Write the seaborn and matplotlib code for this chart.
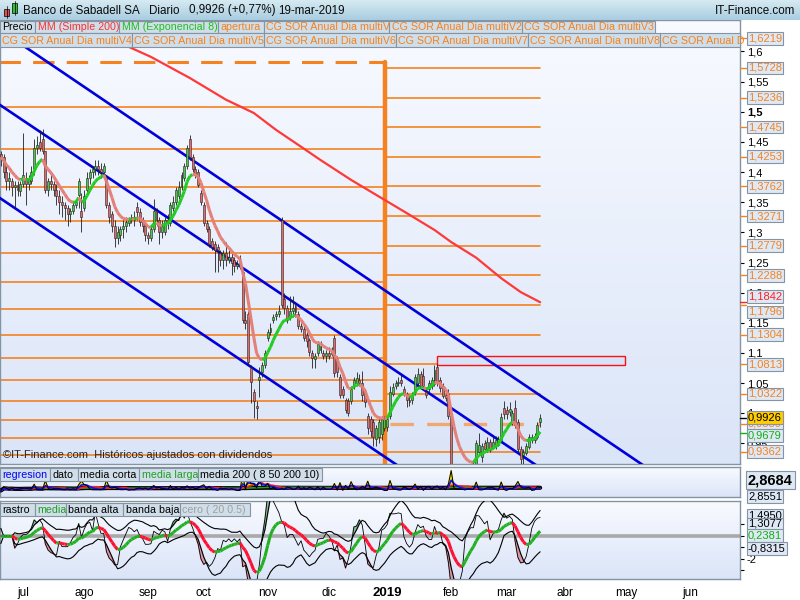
import numpy as np
import pandas as pd
import matplotlib
matplotlib.use("Agg")
import matplotlib.pyplot as plt
import matplotlib.transforms as mtransforms
from matplotlib.patches import Rectangle
from matplotlib.collections import LineCollection
from matplotlib.colors import LinearSegmentedColormap
import seaborn as sns

# ---------------- datos ----------------
inicio = "2018-06-20"
fin_calendario = "2019-06-28"

apertura = [
    1.430, 1.425, 1.400, 1.385, 1.385, 1.375, 1.378, 1.368, 1.380, 1.390,
    1.380, 1.385, 1.405, 1.440, 1.450, 1.455, 1.435, 1.370, 1.385, 1.380,
    1.370, 1.360, 1.350, 1.345, 1.340, 1.330, 1.335, 1.345, 1.362, 1.335,
    1.340, 1.370, 1.390, 1.400, 1.405, 1.410, 1.405, 1.400, 1.390, 1.345,
    1.330, 1.310, 1.290, 1.295, 1.305, 1.310, 1.315, 1.320, 1.325, 1.342,
    1.333, 1.320, 1.310, 1.295, 1.290, 1.305, 1.335, 1.320, 1.300, 1.300,
    1.320, 1.315, 1.340, 1.350, 1.360, 1.375, 1.390, 1.410, 1.455, 1.425,
    1.405, 1.400, 1.365, 1.345, 1.315, 1.305, 1.285, 1.280, 1.275, 1.265,
    1.255, 1.265, 1.255, 1.260, 1.255, 1.245, 1.250, 1.235, 1.155, 1.165,
    1.075, 1.035, 1.012, 1.055, 1.068, 1.080, 1.125, 1.135, 1.155, 1.162,
    1.165, 1.320, 1.190, 1.175, 1.160, 1.170, 1.178, 1.165, 1.145, 1.140,
    1.130, 1.122, 1.100, 1.090, 1.100, 1.105, 1.100, 1.095, 1.100, 1.098,
    1.125, 1.090, 1.060, 1.040, 1.022, 1.020, 1.020, 1.045, 1.050, 1.055,
    1.050, 1.035, 0.995, 0.990, 0.985, 0.958, 0.960, 0.965, 0.975, 0.978,
    0.995, 1.032, 1.045, 1.050, 1.055, 1.040, 1.032, 1.022, 1.022, 1.035,
    1.050, 1.065, 1.062, 1.035, 1.040, 1.045, 1.048, 1.077, 1.055, 1.045,
    1.030, 1.034, 0.995, 0.905, 0.895, 0.890, 0.895, 0.900, 0.898, 0.905,
    0.910, 0.915, 0.935, 0.928, 0.950, 0.940, 0.952, 0.943, 0.945, 0.948,
    0.956, 1.009, 1.005, 1.002, 0.985, 1.009, 0.985, 0.940, 0.930, 0.934,
    0.944, 0.955, 0.956, 0.960, 0.985,
]
maximo = [
    1.435, 1.430, 1.410, 1.400, 1.390, 1.385, 1.385, 1.385, 1.465, 1.400,
    1.395, 1.410, 1.455, 1.460, 1.470, 1.472, 1.435, 1.390, 1.400, 1.385,
    1.380, 1.370, 1.360, 1.350, 1.345, 1.340, 1.350, 1.355, 1.390, 1.365,
    1.370, 1.400, 1.405, 1.410, 1.420, 1.420, 1.415, 1.415, 1.395, 1.350,
    1.335, 1.320, 1.310, 1.310, 1.320, 1.325, 1.325, 1.330, 1.335, 1.350,
    1.340, 1.325, 1.315, 1.300, 1.310, 1.355, 1.340, 1.325, 1.320, 1.325,
    1.330, 1.350, 1.360, 1.375, 1.385, 1.400, 1.415, 1.445, 1.462, 1.430,
    1.410, 1.405, 1.370, 1.350, 1.320, 1.310, 1.290, 1.285, 1.280, 1.270,
    1.270, 1.284, 1.270, 1.265, 1.260, 1.255, 1.263, 1.240, 1.170, 1.170,
    1.080, 1.040, 1.020, 1.077, 1.085, 1.105, 1.140, 1.150, 1.165, 1.170,
    1.180, 1.325, 1.200, 1.180, 1.195, 1.195, 1.185, 1.170, 1.150, 1.145,
    1.135, 1.125, 1.105, 1.100, 1.120, 1.120, 1.105, 1.105, 1.110, 1.110,
    1.130, 1.095, 1.065, 1.045, 1.025, 1.025, 1.045, 1.060, 1.068, 1.065,
    1.070, 1.040, 1.000, 0.995, 0.990, 0.980, 0.990, 0.995, 0.995, 0.995,
    1.045, 1.050, 1.055, 1.060, 1.063, 1.045, 1.035, 1.030, 1.035, 1.065,
    1.075, 1.070, 1.075, 1.040, 1.055, 1.060, 1.080, 1.082, 1.060, 1.050,
    1.035, 1.040, 1.000, 0.910, 0.900, 0.900, 0.905, 0.908, 0.910, 0.915,
    0.920, 0.955, 0.968, 0.950, 0.955, 0.960, 0.958, 0.960, 0.962, 0.962,
    1.000, 1.020, 1.012, 1.018, 1.005, 1.022, 0.990, 0.945, 0.940, 0.950,
    0.965, 0.965, 0.968, 0.985, 0.998,
]
minimo = [
    1.410, 1.390, 1.370, 1.370, 1.360, 1.340, 1.360, 1.360, 1.375, 1.345,
    1.370, 1.380, 1.395, 1.430, 1.435, 1.430, 1.365, 1.360, 1.370, 1.360,
    1.345, 1.330, 1.325, 1.320, 1.310, 1.318, 1.330, 1.340, 1.340, 1.300,
    1.335, 1.365, 1.380, 1.390, 1.395, 1.395, 1.390, 1.395, 1.340, 1.315,
    1.300, 1.275, 1.280, 1.285, 1.290, 1.300, 1.310, 1.315, 1.310, 1.320,
    1.310, 1.300, 1.285, 1.280, 1.285, 1.300, 1.310, 1.280, 1.290, 1.295,
    1.305, 1.310, 1.335, 1.345, 1.355, 1.370, 1.385, 1.405, 1.420, 1.400,
    1.390, 1.375, 1.345, 1.310, 1.300, 1.275, 1.270, 1.235, 1.235, 1.245,
    1.240, 1.245, 1.250, 1.230, 1.235, 1.240, 1.240, 1.150, 1.140, 1.080,
    1.017, 0.992, 0.990, 1.027, 1.060, 1.075, 1.120, 1.130, 1.150, 1.155,
    1.160, 1.175, 1.165, 1.150, 1.155, 1.160, 1.160, 1.140, 1.135, 1.120,
    1.110, 1.095, 1.075, 1.075, 1.095, 1.100, 1.090, 1.085, 1.090, 1.095,
    1.060, 1.060, 1.025, 1.025, 1.000, 0.995, 1.015, 1.040, 1.045, 1.045,
    1.020, 1.010, 0.965, 0.960, 0.945, 0.945, 0.950, 0.955, 0.970, 0.970,
    0.990, 1.028, 1.040, 1.045, 1.045, 1.028, 1.010, 1.012, 1.015, 1.030,
    1.045, 1.040, 1.040, 1.025, 1.035, 1.040, 1.045, 1.045, 1.035, 1.025,
    1.020, 0.990, 0.895, 0.890, 0.880, 0.885, 0.890, 0.892, 0.895, 0.900,
    0.905, 0.910, 0.930, 0.920, 0.935, 0.935, 0.935, 0.940, 0.940, 0.945,
    0.952, 0.990, 0.990, 0.995, 0.980, 0.975, 0.935, 0.915, 0.915, 0.930,
    0.940, 0.950, 0.950, 0.958, 0.978,
]
cierre = [
    1.425, 1.400, 1.385, 1.390, 1.375, 1.378, 1.370, 1.380, 1.395, 1.380,
    1.390, 1.400, 1.440, 1.445, 1.440, 1.435, 1.370, 1.385, 1.380, 1.370,
    1.360, 1.350, 1.345, 1.340, 1.330, 1.335, 1.345, 1.350, 1.385, 1.325,
    1.360, 1.390, 1.400, 1.405, 1.410, 1.405, 1.400, 1.410, 1.345, 1.325,
    1.310, 1.290, 1.300, 1.305, 1.310, 1.318, 1.320, 1.325, 1.320, 1.333,
    1.318, 1.310, 1.295, 1.290, 1.305, 1.335, 1.320, 1.300, 1.310, 1.320,
    1.315, 1.345, 1.350, 1.370, 1.375, 1.395, 1.410, 1.440, 1.425, 1.405,
    1.395, 1.378, 1.350, 1.315, 1.305, 1.280, 1.275, 1.270, 1.270, 1.255,
    1.265, 1.255, 1.260, 1.250, 1.245, 1.245, 1.245, 1.155, 1.150, 1.085,
    1.052, 1.020, 1.008, 1.060, 1.080, 1.100, 1.135, 1.142, 1.160, 1.165,
    1.170, 1.180, 1.175, 1.155, 1.170, 1.175, 1.168, 1.145, 1.140, 1.125,
    1.120, 1.102, 1.092, 1.095, 1.115, 1.112, 1.095, 1.100, 1.095, 1.102,
    1.067, 1.068, 1.030, 1.030, 1.006, 1.000, 1.040, 1.055, 1.058, 1.050,
    1.030, 1.018, 0.975, 0.970, 0.960, 0.975, 0.985, 0.990, 0.990, 0.990,
    1.035, 1.044, 1.050, 1.052, 1.050, 1.033, 1.022, 1.018, 1.030, 1.060,
    1.065, 1.045, 1.045, 1.030, 1.050, 1.055, 1.072, 1.050, 1.042, 1.028,
    1.025, 0.995, 0.905, 0.895, 0.890, 0.895, 0.900, 0.898, 0.905, 0.910,
    0.915, 0.950, 0.947, 0.945, 0.940, 0.952, 0.940, 0.952, 0.956, 0.957,
    0.994, 0.998, 0.998, 1.007, 1.000, 0.980, 0.940, 0.925, 0.935, 0.945,
    0.960, 0.960, 0.962, 0.980, 0.9926,
]

ma200_sesion = [43, 54, 68, 81, 91, 99, 108, 115, 126, 138, 146, 156, 162, 171, 180, 187, 194]
ma200_valor = [1.614, 1.591, 1.556, 1.520, 1.498, 1.470, 1.442, 1.420, 1.387, 1.354,
               1.332, 1.304, 1.284, 1.258, 1.224, 1.201, 1.1842]
ema8_ultimo = 0.9679

# niveles anuales (CG SOR Anual)
apertura_2018 = 1.5826
niveles_2018 = [1.5075, 1.4385, 1.3760, 1.3185, 1.2660, 1.2175, 1.1725, 1.1305,
                1.0915, 1.0550, 1.0210, 0.9890, 0.9590, 0.9310]
apertura_2019 = 0.9830
niveles_2019 = [1.6219, 1.5728, 1.5236, 1.4745, 1.4253, 1.3762, 1.3271, 1.2779,
                1.2288, 1.1796, 1.1304, 1.0813, 1.0322, 0.9362]

# canal bajista (extremos de cada recta)
canal_sesion = [-1, 240]
canal_sup = [1.638, 0.886]
canal_med = [1.5135, 0.767]
canal_inf = [1.359, 0.612]

zona_sesion = [157, 224.5]
zona_valor = [1.0805, 1.0955]

meses = ["jul", "ago", "sep", "oct", "nov", "dic", "2019", "feb", "mar", "abr", "may", "jun"]

# ---------------- estilo ----------------
sns.set_style("white")
plt.rcParams['font.family'] = ['Liberation Sans', 'DejaVu Sans']

naranja = '#f5821f'
azul = '#0000dd'
gris_borde = '#8494a4'
fondo_cmap = LinearSegmentedColormap.from_list('fondo', ['#f8faff', '#dbe5f8'])
barra_cmap = LinearSegmentedColormap.from_list('barra', ['#d6eaf2', '#a9cde0'])

df = pd.DataFrame({'apertura': apertura, 'maximo': maximo, 'minimo': minimo, 'cierre': cierre})
df['fecha'] = pd.bdate_range(inicio, periods=len(df))
df['sesion'] = np.arange(len(df))
calendario = pd.bdate_range(inicio, fin_calendario)
cal = pd.Series(np.arange(len(calendario)), index=calendario)
primeros = cal.groupby(calendario.to_period('M')).first().iloc[1:]

W, H = 800, 600
fig = plt.figure(figsize=(8, 6), dpi=100)


def caja(x0, y0, x1, y1):
    return [x0 / W, 1 - y1 / H, (x1 - x0) / W, (y1 - y0) / H]


XL = (-0.3, 265.9)
ax = fig.add_axes(caja(0, 20, 740, 464))
ax2 = fig.add_axes(caja(0, 467, 740, 497))
ax3 = fig.add_axes(caja(0, 501, 740, 579))
limites = {ax: (0.9159, 1.6522), ax2: (2.8505, 2.8805), ax3: (-3.74, 3.04)}
for a, yl in limites.items():
    a.set_xlim(*XL)
    a.set_ylim(*yl)
    a.imshow(np.linspace(0, 1, 100).reshape(-1, 1), cmap=fondo_cmap, aspect='auto',
             extent=(XL[0], XL[1], yl[0], yl[1]), origin='upper', zorder=0)
    for sp in a.spines.values():
        sp.set_color(gris_borde)
        sp.set_linewidth(1)
    a.yaxis.tick_right()
    a.tick_params(axis='y', length=3, width=0.8, pad=2, labelsize=8, colors='black')

s = df['sesion']

# ---------------- panel principal ----------------
for v in niveles_2018:
    ax.plot([-1, 138.3], [v, v], color=naranja, lw=1.2, zorder=2)
ax.plot([-1, 138.3], [apertura_2018] * 2, color=naranja, lw=2.2, ls=(0, (7, 4)), zorder=2)
ax.plot([138.3, 138.3], [0.9, apertura_2018], color=naranja, lw=3.2, zorder=2)
for v in niveles_2019:
    ax.plot([138.3, 194], [v, v], color=naranja, lw=1.2, zorder=2)
ax.plot([140, 194], [apertura_2019] * 2, color='#f0a870', lw=2.4, ls=(0, (7, 4)), zorder=2)

ax.add_patch(Rectangle((zona_sesion[0], zona_valor[0]), zona_sesion[1] - zona_sesion[0],
                       zona_valor[1] - zona_valor[0], fc='#d6e2f8', ec='#ff1010', lw=1, zorder=2))

for linea in (canal_sup, canal_med, canal_inf):
    sns.lineplot(x=canal_sesion, y=linea, ax=ax, color=azul, lw=1.9, zorder=3)

sns.lineplot(x=ma200_sesion, y=ma200_valor, ax=ax, color='#ff3838', lw=1.6, zorder=3)

alza = df['cierre'] >= df['apertura']
ax.vlines(s, df['minimo'], df['maximo'], color='#202020', lw=0.6, zorder=4)
cuerpo = np.maximum((df['cierre'] - df['apertura']).abs(), 0.002)
ax.bar(s, cuerpo, bottom=np.minimum(df['apertura'], df['cierre']), width=0.7,
       color=np.where(alza, '#4ac84a', '#e26a6a'), edgecolor='#202020', linewidth=0.4, zorder=5)

ema = df['cierre'].ewm(span=8, adjust=False).mean()
pts = np.column_stack([s, ema])
segs = np.stack([pts[:-1], pts[1:]], axis=1)
col_ema = np.where(np.diff(ema) >= 0, '#22cc22', '#e38078')
ax.add_collection(LineCollection(segs, colors=col_ema, linewidths=2.2, zorder=6))

ax.text(0.004, 0.008, "©IT-Finance.com  Históricos ajustados con dividendos", transform=ax.transAxes,
        fontsize=8, va='bottom', ha='left', zorder=7)

ticks = np.round(np.arange(0.95, 1.6001, 0.05), 2)
ax.set_yticks(ticks, labels=[f"{t:g}".replace('.', ',') for t in ticks])
for t in ax.get_yticklabels():
    if t.get_text() == '1,5':
        t.set_fontweight('bold')
ax.set_xticks([])
ax.set_xlabel('')
ax.set_ylabel('')


def etiqueta(a, v, texto, color, fc='#dfe9f5', dy=0, size=8, weight='normal', marca=None):
    tr = mtransforms.blended_transform_factory(a.transAxes, a.transData)
    if marca:
        a.plot([1.0, 1.008], [v, v], transform=tr, clip_on=False, color=marca, lw=1, zorder=8)
    a.annotate(texto, xy=(1, v), xycoords=tr, xytext=(8, dy), textcoords='offset pixels',
               ha='left', va='center', fontsize=size, fontweight=weight, color=color, zorder=9,
               annotation_clip=False,
               bbox=dict(boxstyle='square,pad=0.12', fc=fc, ec=gris_borde, lw=0.8))


for v in niveles_2019:
    dy = -7 if abs(v - 1.1796) < 1e-6 else 0
    etiqueta(ax, v, f"{v:.4f}".replace('.', ','), naranja, dy=dy, marca=naranja)
etiqueta(ax, apertura_2019, "0,9830", naranja, marca=naranja)
etiqueta(ax, ma200_valor[-1], "1,1842", '#ff2020', dy=6, marca='#ff2020')
etiqueta(ax, cierre[-1], "0,9926", 'black', fc='#ffcc00', marca='black')
etiqueta(ax, ema8_ultimo, "0,9679", '#10b010', dy=-3, marca='#10b010')

# ---------------- panel regresion ----------------
ret = df['cierre'].pct_change().abs().fillna(0)
dato = 2.857 + 0.22 * ret
corta = dato.rolling(8, min_periods=1).mean()
larga = dato.rolling(50, min_periods=1).mean()
m200 = dato.expanding().mean()
regres = dato.ewm(span=4, adjust=False).mean()
ax2.fill_between(s, dato, corta, where=dato > corta, color='#f4e000', interpolate=True, zorder=2)
sns.lineplot(x=s, y=m200, ax=ax2, color='black', lw=3, zorder=3)
sns.lineplot(x=s, y=larga, ax=ax2, color='#20a020', lw=1.2, zorder=3)
sns.lineplot(x=s, y=corta, ax=ax2, color='#ff2020', lw=1.2, zorder=3)
sns.lineplot(x=s, y=regres, ax=ax2, color='#1010ff', lw=1.2, zorder=4)
sns.lineplot(x=s, y=dato, ax=ax2, color='black', lw=0.7, zorder=5)
ax2.set_xticks([])
ax2.set_yticks([])
ax2.set_xlabel('')
ax2.set_ylabel('')
etiqueta(ax2, 2.8551, "2,8551", 'black', dy=-4)
etiqueta(ax2, 2.8684, "2,8684", 'black', dy=-1, size=10.5, weight='bold')

# ---------------- panel rastro ----------------
rastro = df['cierre'].pct_change(5).fillna(0) * 32
media = rastro.ewm(span=10, adjust=False).mean()
desv = rastro.rolling(15, min_periods=2).std().fillna(0.6) * 1.1
alta = media + desv
baja = media - desv
ax3.axhline(0, color='#a9a9a9', lw=2.6, zorder=1)
ax3.fill_between(s, rastro, alta, where=rastro > alta, color='#8cb89c', interpolate=True, zorder=2)
ax3.fill_between(s, rastro, baja, where=rastro < baja, color='#d49aa8', interpolate=True, zorder=2)
sns.lineplot(x=s, y=alta, ax=ax3, color='black', lw=0.8, zorder=3)
sns.lineplot(x=s, y=baja, ax=ax3, color='black', lw=0.8, zorder=3)
sns.lineplot(x=s, y=rastro, ax=ax3, color='black', lw=0.6, zorder=3)
pm = np.column_stack([s, media])
sm = np.stack([pm[:-1], pm[1:]], axis=1)
col_m = np.where(np.diff(media) >= 0, '#20b020', '#ff1030')
ax3.add_collection(LineCollection(sm, colors=col_m, linewidths=2.2, zorder=4))
ax3.set_yticks([-3, -2, -1, 0, 1], labels=['', '-2', '', '0', ''])
ax3.set_ylabel('')
ax3.set_xlabel('')
etiqueta(ax3, 1.4950, "1,4950", 'black', dy=3)
etiqueta(ax3, 1.3077, "1,3077", 'black', dy=-3)
etiqueta(ax3, 0.2381, "0,2381", '#10b010', dy=-2)
etiqueta(ax3, -0.8315, "-0,8315", 'black', dy=-3)

ax3.set_xticks(primeros.values, labels=meses)
ax3.tick_params(axis='x', length=3, width=0.8, pad=3, labelsize=8.5, colors='black')
for t in ax3.get_xticklabels():
    if t.get_text() == '2019':
        t.set_fontweight('bold')
        t.set_fontsize(9.5)

# ---------------- cabecera y leyendas ----------------
tb = fig.add_axes(caja(0, 0, 800, 20))
tb.set_xlim(0, 800)
tb.set_ylim(20, 0)
tb.imshow(np.linspace(0, 1, 50).reshape(-1, 1), cmap=barra_cmap, aspect='auto',
          extent=(0, 800, 20, 0), zorder=0)
tb.axis('off')
tb.add_patch(Rectangle((4, 9), 5, 7, fc='#e05050', ec='black', lw=0.5))
tb.plot([6.5, 6.5], [6, 18], color='black', lw=0.5)
tb.add_patch(Rectangle((12, 3), 5, 10, fc='#30c030', ec='black', lw=0.5))
tb.plot([14.5, 14.5], [1, 15], color='black', lw=0.5)
cab = [("Banco de Sabadell SA", 23), ("Diario", 149), ("0,9926 (+0,77%)", 189), ("19-mar-2019", 278)]
for txt, x in cab:
    tb.text(x, 10.5, txt, fontsize=8.4, va='center', ha='left', color='#0a0a0a')
tb.text(795, 10.5, "IT-Finance.com", fontsize=8.4, va='center', ha='right', color='#0a0a0a')

ov = fig.add_axes([0, 0, 1, 1], zorder=10)
ov.set_xlim(0, W)
ov.set_ylim(H, 0)
ov.axis('off')

leyendas = [
    (20.5, 33.3, [("Precio", 'black', 0, 35), ("MM (Simple 200)", '#ff3030', 35, 119),
                  ("MM (Exponencial 8)", '#20c020', 119, 218), ("apertura", naranja, 218, 264),
                  ("CG SOR Anual Dia multiV", naranja, 264, 389),
                  ("CG SOR Anual Dia multiV2", naranja, 389, 522),
                  ("CG SOR Anual Dia multiV3", naranja, 522, 655)]),
    (33.3, 46.7, [("CG SOR Anual Dia multiV4", naranja, 0, 132),
                  ("CG SOR Anual Dia multiV5", naranja, 132, 264),
                  ("CG SOR Anual Dia multiV6", naranja, 264, 396),
                  ("CG SOR Anual Dia multiV7", naranja, 396, 528),
                  ("CG SOR Anual Dia multiV8", naranja, 528, 660),
                  ("CG SOR Anual D", naranja, 660, 740)]),
    (468, 481, [("regresion", '#0000ff', 0, 50), ("dato", 'black', 50, 78),
                ("media corta", 'black', 78, 139), ("media larga", '#20a020', 139, 198),
                ("media 200 ( 8 50 200 10)", 'black', 198, 322)]),
    (503, 516, [("rastro", 'black', 0, 35), ("media", '#20a020', 35, 66),
                ("banda alta", 'black', 66, 123), ("banda baja", 'black', 123, 180),
                ("cero ( 20 0.5)", '#a0a0a0', 180, 250)]),
]
for y0, y1, cajas in leyendas:
    for txt, color, x0, x1 in cajas:
        ov.add_patch(Rectangle((x0, y0), x1 - x0, y1 - y0, fc='#cfdee8', ec=gris_borde, lw=0.8))
        ov.text(x0 + 2.5, (y0 + y1) / 2 + 0.5, txt, fontsize=7.7, color=color, va='center', ha='left')

fig.savefig("out.png", dpi=100)
